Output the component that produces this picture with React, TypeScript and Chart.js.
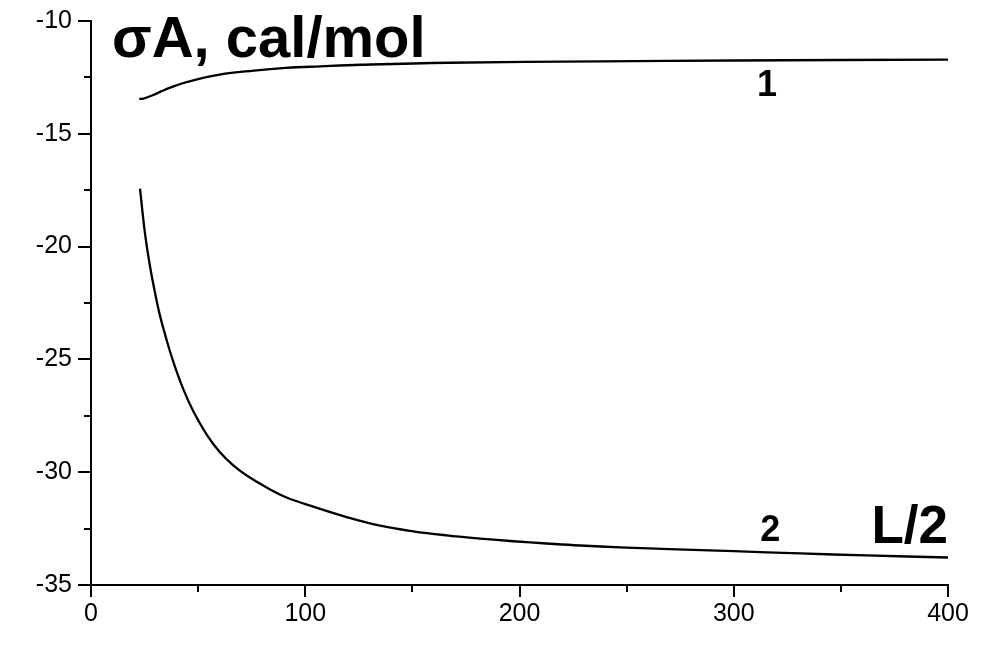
import React, { useEffect, useRef } from "react";
import { Chart, registerables } from "chart.js";

Chart.register(...registerables);

// Curve 1
const curve1X = [22.5, 24.5, 29, 33, 37, 45, 60, 76, 91, 107, 126, 167, 238, 300, 400];
const curve1Y = [-13.45, -13.44, -13.28, -13.11, -12.95, -12.7, -12.38, -12.2, -12.08, -12.01, -11.94, -11.85, -11.79, -11.75, -11.71];

// Curve 2
const curve2X = [22.87, 25.2, 27.54, 29.87, 32.2, 35.33, 38.41, 43.08, 47.75, 54.0, 60.2, 66.4, 72.7, 82.0, 91.3, 103.8, 119.3, 134.9, 150.4, 166, 181.6, 197.1, 212.7, 228.2, 246.9, 300, 331, 362, 400];
const curve2Y = [-17.43, -19.41, -20.87, -22.04, -23.06, -24.15, -25.1, -26.32, -27.3, -28.33, -29.12, -29.7, -30.15, -30.68, -31.12, -31.53, -31.99, -32.37, -32.62, -32.8, -32.94, -33.06, -33.16, -33.25, -33.33, -33.5, -33.6, -33.69, -33.78];

// Axis ticks
const xMajorTicks = [0, 100, 200, 300, 400];
const xMinorTicks = [50, 150, 250, 350];
const yMajorTicks = [-35, -30, -25, -20, -15, -10];
const yMinorTicks = [-32.5, -27.5, -22.5, -17.5, -12.5];

// Text annotations (data coordinates)
const annotations = [
  { text: "σA, cal/mol", x: 9.8, y: -11.58, size: 58, align: "left" },
  { text: "1", x: 315.5, y: -13.34, size: 36, align: "center" },
  { text: "2", x: 317, y: -33.07, size: 36, align: "center" },
  { text: "L/2", x: 400, y: -33.15, size: 53, align: "right" },
];

const FONT = "'Liberation Sans', Arial, sans-serif";

export default function App() {
  const ref = useRef<HTMLCanvasElement | null>(null);

  useEffect(() => {
    if (!ref.current) return;

    const extras = {
      id: "extras",
      afterDraw(chart: any) {
        const ctx = chart.ctx;
        const xs = chart.scales.x;
        const ys = chart.scales.y;
        const area = chart.chartArea;
        ctx.save();
        ctx.strokeStyle = "#000";
        ctx.lineWidth = 2;
        ctx.beginPath();
        for (const v of yMinorTicks) {
          const py = Math.round(ys.getPixelForValue(v));
          ctx.moveTo(area.left - 7, py);
          ctx.lineTo(area.left, py);
        }
        for (const v of xMinorTicks) {
          const px = Math.round(xs.getPixelForValue(v));
          ctx.moveTo(px, area.bottom);
          ctx.lineTo(px, area.bottom + 7);
        }
        ctx.stroke();
        ctx.fillStyle = "#000";
        ctx.textBaseline = "alphabetic";
        for (const a of annotations) {
          ctx.font = `bold ${a.size}px ${FONT}`;
          ctx.textAlign = a.align as CanvasTextAlign;
          ctx.fillText(a.text, xs.getPixelForValue(a.x), ys.getPixelForValue(a.y));
        }
        ctx.restore();
      },
    };

    const chart = new Chart(ref.current, {
      type: "line",
      data: {
        datasets: [
          {
            label: "1",
            data: curve1X.map((x, i) => ({ x, y: curve1Y[i] })),
            borderColor: "#000",
            borderWidth: 2.3,
            pointRadius: 0,
            tension: 0.4,
            fill: false,
          },
          {
            label: "2",
            data: curve2X.map((x, i) => ({ x, y: curve2Y[i] })),
            borderColor: "#000",
            borderWidth: 2.3,
            pointRadius: 0,
            tension: 0.4,
            fill: false,
          },
        ],
      },
      options: {
        animation: false,
        responsive: true,
        maintainAspectRatio: false,
        layout: { padding: { left: 0, top: 16, right: 56, bottom: 0 } },
        plugins: { legend: { display: false }, tooltip: { enabled: false } },
        scales: {
          x: {
            type: "linear",
            min: 0,
            max: 400,
            afterFit: (s: any) => {
              s.height = 76;
            },
            afterBuildTicks: (s: any) => {
              s.ticks = xMajorTicks.map((v) => ({ value: v }));
            },
            border: { display: true, color: "#000", width: 2 },
            grid: { drawOnChartArea: false, tickLength: 12, tickWidth: 2, tickColor: "#000", lineWidth: 2, color: "#000" },
            ticks: { color: "#000", font: { family: FONT, size: 25 }, padding: 2, maxRotation: 0 },
          },
          y: {
            type: "linear",
            min: -35,
            max: -10,
            afterFit: (s: any) => {
              s.width = 91;
            },
            afterBuildTicks: (s: any) => {
              s.ticks = yMajorTicks.map((v) => ({ value: v }));
            },
            border: { display: true, color: "#000", width: 2 },
            grid: { drawOnChartArea: false, tickLength: 13, tickWidth: 2, tickColor: "#000", lineWidth: 2, color: "#000" },
            ticks: { color: "#000", font: { family: FONT, size: 25 }, padding: 6 },
          },
        },
      },
      plugins: [extras],
    } as any);

    return () => chart.destroy();
  }, []);

  return (
    <div style={{ position: "absolute", left: 0, top: 0, width: 1004, height: 661, background: "#fff" }}>
      <canvas ref={ref} />
    </div>
  );
}
